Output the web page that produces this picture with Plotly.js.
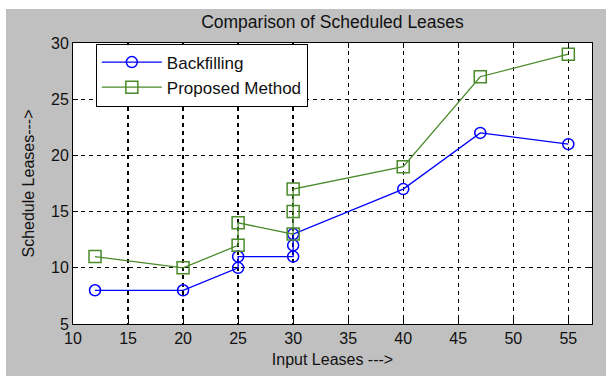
<!DOCTYPE html>
<html>
<head>
<meta charset="utf-8">
<script src="https://cdn.plot.ly/plotly-3.0.1.min.js"></script>
<style>
  html, body { margin: 0; padding: 0; background: #ffffff; width: 606px; height: 376px; overflow: hidden; }
  #chart { position: absolute; left: 6px; top: 9px; width: 600px; height: 367px; }
</style>
</head>
<body>
<div id="chart"></div>
<script>
// Scheduled leases per input lease count
const inputLeases = [12, 20, 25, 25, 30, 30, 30, 40, 47, 55];
const backfilling = [8, 8, 10, 11, 11, 12, 13, 17, 22, 21];
const proposedMethod = [11, 10, 12, 14, 13, 15, 17, 19, 27, 29];

const xTicks = [10, 15, 20, 25, 30, 35, 40, 45, 50, 55];
const yTicks = [5, 10, 15, 20, 25, 30];

const FONT = '"Liberation Sans", Arial, Helvetica, sans-serif';
const GREEN = '#4a8a2a';
const BLUE = '#0000ff';

const traces = [
  {
    x: inputLeases, y: backfilling, name: 'Backfilling',
    type: 'scatter', mode: 'lines+markers',
    line: { color: BLUE, width: 1.3 },
    marker: { symbol: 'circle-open', size: 11, color: BLUE, line: { width: 1.5, color: BLUE } }
  },
  {
    x: inputLeases, y: proposedMethod, name: 'Proposed Method',
    type: 'scatter', mode: 'lines+markers',
    line: { color: GREEN, width: 1.3 },
    marker: { symbol: 'square-open', size: 12, color: GREEN, line: { width: 1.5, color: GREEN } }
  }
];

const axisCommon = {
  showline: true, mirror: 'ticks', linecolor: '#000', linewidth: 1,
  ticks: 'inside', ticklen: 5, tickcolor: '#000', tickwidth: 1,
  showgrid: true, gridcolor: '#000', gridwidth: 1.3, griddash: '4px,4px',
  zeroline: false,
  tickfont: { family: FONT, size: 16, color: '#111' }
};

const layout = {
  width: 600, height: 367,
  paper_bgcolor: '#c0c0c0', plot_bgcolor: '#ffffff',
  margin: { l: 67, r: 14, t: 34, b: 52 },
  font: { family: FONT, color: '#111' },
  title: {
    text: 'Comparison of Scheduled Leases',
    font: { family: FONT, size: 17.5, color: '#111' },
    x: 0.5, xref: 'paper', xanchor: 'center',
    y: 1 - 13 / 367, yref: 'container', yanchor: 'middle'
  },
  xaxis: Object.assign({}, axisCommon, {
    range: [10, 57.15], tickvals: xTicks, ticktext: xTicks.map(String),
    title: { text: 'Input Leases --->', font: { family: FONT, size: 16, color: '#111' }, standoff: 7 }
  }),
  yaxis: Object.assign({}, axisCommon, {
    range: [5, 30], tickvals: yTicks, ticktext: yTicks.map(String),
    title: { text: 'Schedule Leases--->', font: { family: FONT, size: 16, color: '#111' }, standoff: 12 }
  }),
  showlegend: true,
  legend: {
    x: 0.044, y: 0.998, xanchor: 'left', yanchor: 'top',
    bgcolor: '#ffffff', bordercolor: '#000', borderwidth: 1,
    font: { family: FONT, size: 17, color: '#111' },
    itemwidth: 60
  }
};

Plotly.newPlot('chart', traces, layout, { displayModeBar: false, staticPlot: true });
</script>
</body>
</html>
